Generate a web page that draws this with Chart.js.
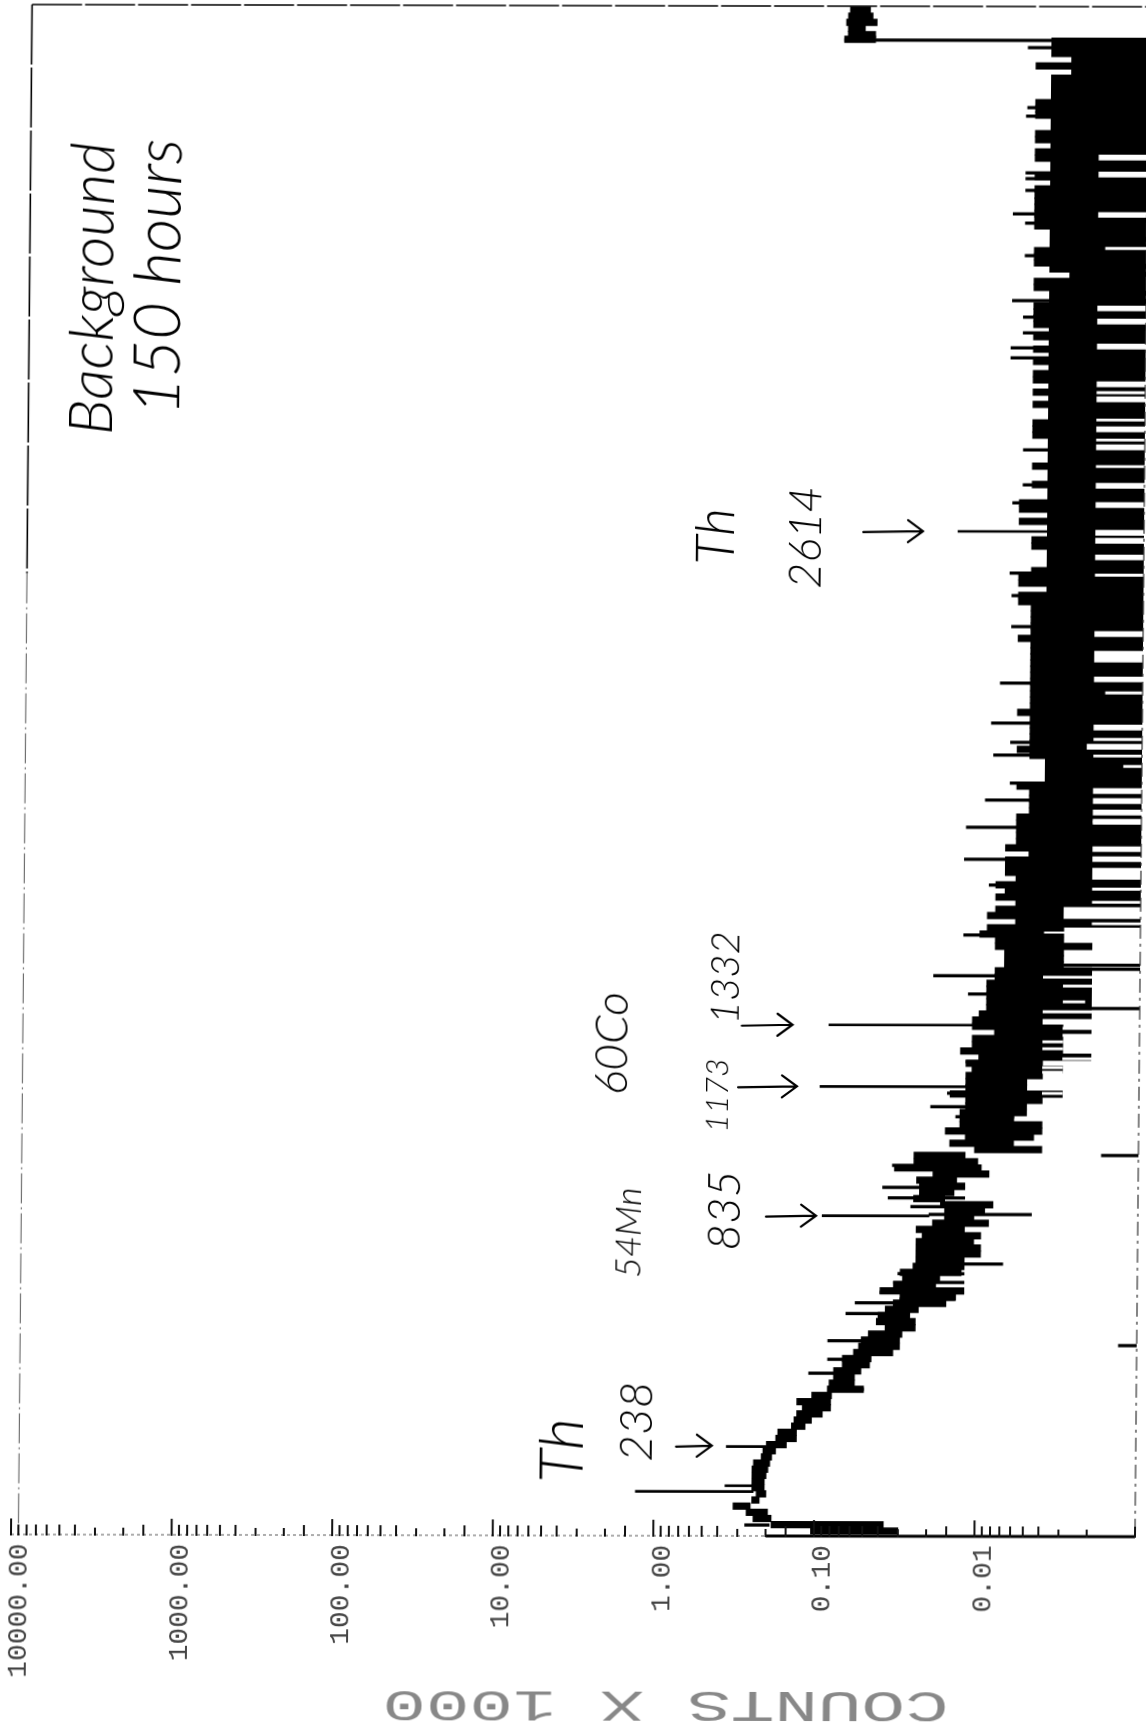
<!DOCTYPE html>
<html><head><meta charset="utf-8">
<style>
html,body{margin:0;padding:0;background:#fff;overflow:hidden;width:1146px;height:1723px}
canvas{position:absolute;left:0;top:0;transform-origin:0 0;transform:matrix(1,0.002,-0.009,1,13.8,-0.5)}
</style>
<script src="https://cdn.jsdelivr.net/npm/chart.js@4"></script>
</head><body><canvas id="c" width="1146" height="1723"></canvas>
<script>
// Background gamma spectrum: counts x 1000 (log) against energy in keV.
const tickLabelValues = [10000, 1000, 100, 10, 1, 0.1, 0.01];
const axisTitle = 'COUNTS X 1000';
const floorCounts = 0.001;
const topRowKeV = 3888, rowWidthKeV = 16;

// Envelope of the spectrum, one row per 16 keV, from the top of the plot downward
const bodyHigh = [
.004,.004,.004,.003,.005,.003,.004,.004,.004,.004,
.005,.005,.005,.004,.004,.005,.005,.004,.005,.005,
.004,.004,.005,.004,.005,.005,.005,.005,.005,.005,
.005,.004,.004,.004,.005,.005,.005,.004,.003,.005,
.005,.004,.004,.005,.005,.005,.005,.004,.005,.004,.005,
.004,.005,.004,.005,.005,.004,.005,.004,.005,.004,
.004,.005,.005,.005,.004,.004,.004,.004,.005,.004,
.004,.005,.004,.004,.006,.006,.004,.006,.004,.004,
.005,.005,.004,.004,.004,.005,.006,.006,.004,.006,
.006,.005,.005,.005,.005,.005,.006,.005,.005,.005,
.005,.005,.005,.005,.005,.005,.005,.005,.006,.005,
.005,.005,.005,.005,.006,.005,.004,.004,.004,.004,
.006,.005,.005,.005,.005,.006,.006,.006,.006,.006,
.007,.005,.007,.007,.007,.006,.008,.007,.008,.006,
.008,.009,.006,.009,.01,.008,.008,.007,.007,.007,
.008,.008,.009,.009,.009,.009,.009,.01,.011,.011,
.008,.011,.011,.013,.01,.012,.011,.012,.012,.012,
.015,.012,.012,
.013,.013,.013,.016,.012,.015,.0105,.025,.025,.033,
.019,.024,.023,.023,.025,.017,.016,.016,.019,.024,
.022,.024,.024,.024,.024,.025,.03,.029,.033,.04,
.03,.033,.037,.041,.042,.037,.047,.052,.054,.058,
.068,.068,.077,.077,.082,.084,.105,.13,.12,.13,
.135,.14,.17,.175,.2,.21,.215,.24,.245,.245,
.245,.245,.23,.245,.32,.265,.24,.185,.105];

// Lower edge of the envelope for the last rows; rows above these reach floorCounts
const bodyLowLastRows = [
.003,.004,.003,.002,.003,.003,.003,.002,.002,.002,.002,.002,.002,.002,.002,.002,
.003,.002,.003,.003,.003,.002,.004,.003,.004,.005,.005,.003,.004,.005,
.005,.006,.004,.004,.0045,.006,.004,.012,.01,.0095,
.0085,.0135,.012,.014,.016,.008,.009,.0105,.0085,.012,
.0095,.0105,.0095,.0095,.012,.012,.0125,.017,.018,.012,
.0135,.0155,.023,.026,.024,.024,.029,.03,.03,.033,
.045,.046,.052,.057,.057,.05,.079,.08,.08,.09,
.105,.115,.13,.13,.15,.175,.185,.19,.195,.2,
.205,.205,.2,.22,.25,.195,.185,.037,.03];

// Overflow block at the very top of the plot
const blobEnergy = [3968,3952,3936,3920,3904,3892];
const blobHigh = [.072,.074,.076,.074,.074,.078];
const blobLow = [.054,.052,.049,.058,.05,.05];

// Labelled gamma lines
const peakEnergy = [118,133,235,835,1171,1331,2614];
const peakHigh = [1.3,.36,.355,.0925,.097,.086,.0144];
const peakLow = [.24,.24,.2,.02,.012,.01,.004];

// Single channels standing out of the envelope
const spikeEnergy = [3890,3871,3715,3693,3546,3531,3500,3439,3415,3331,3214,3171,3130,3091,3065,
2826,2735,2688,2506,2447,2367,2220,2116,2066,2033,1960,1916,1845,1762,1695,1619,1589,1565,1487,1477,1459,1412,1375,
1269,1236,1154,1119,1093,993,966,909,882,859,839,710,685,662,636,619,609,581,510,499,462,426,384,31];
const spikeHigh = [.078,.0056,.0056,.0057,.0057,.0057,.0057,.0068,.0057,.0057,.0068,.0058,.0058,.0069,.0069,
.0057,.0057,.0066,.0068,.0066,.0066,.0077,.0087,.0066,.0084,.0066,.0094,.0123,.0126,.0088,.0088,.003,.0126,.003,.002,.0193,.0117,.002,
.0128,.012,.0156,.0198,.0138,.0017,.034,.039,.036,.026,.02,.02,.031,.033,.04,.03,.057,.065,.084,.0013,.084,.11,.08,.27];
const spikeLow = [.001,.003,.003,.003,.003,.003,.003,.003,.003,.003,.003,.003,.003,.003,.003,
.003,.003,.003,.003,.003,.003,.003,.003,.003,.003,.003,.003,.003,.003,.003,.003,.001,.003,.001,.001,.004,.004,.001,
.005,.005,.006,.006,.006,.001,.012,.012,.012,.012,.0046,.0069,.012,.012,.012,.0137,.03,.03,.05,.001,.06,.07,.05,.19];

// Energy ranges where no channel falls low: pale slits through the black band
const slitEnergyMid = [3586,3542,3437,3194,3160,3095,2997,2958,2880,2833,2733,2683,2611,2590,2547,2348,2230,2105,2055,1940,1914,1884,1860,1789,1763,1340];
const slitHighMid = [.002,.002,.002,.002,.002,.002,.002,.002,.002,.002,.002,.002,.002,.002,.002,.002,.002,.002,.0022,.002,.002,.002,.002,.002,.002,.004];
const slitLowMid = [.001,.001,.001,.001,.001,.001,.001,.001,.001,.001,.001,.001,.001,.001,.001,.001,.001,.001,.001,.001,.001,.001,.001,.001,.001,.002];
const slitEnergyThin = [3350,2975,2904,2852,2783,2501,2195,2074,2031,2004,1860,1685,1651,1595,1456,1433,1392,1366,1323,1305,1288,1270,1244,1221,1209,1154];
const slitHighThin = [.0018,.002,.002,.002,.002,.002,.0017,.002,.002,.0013,.002,.002,.002,.002,.004,.003,.003,.004,.003,.003,.004,.004,.003,.004,.004,.004];
const slitLowThin = [.001,.001,.001,.001,.001,.001,.001,.001,.001,.001,.001,.001,.001,.001,.002,.002,.0022,.002,.002,.002,.003,.003,.002,.003,.003,.003];
const slitEnergyWide = [2289,1725,1623];
const slitHighWide = [.002,.002,.003];
const slitLowWide = [.001,.001,.001];

// Handwritten notes on the sheet, anchored at [energy keV, counts]
const noteText = ['Background','150 hours','Th','238','54Mn','835','60Co','1173','1332','Th','2614'];
const noteEnergy = [3240,3271,224,299,790,848,1281,1147,1453,2600,2597];
const noteCounts = [3606,1406,3.7,1.28,1.48,.373,1.9,.42,.378,.46,.127];
const noteSize = [61,65,62,46,36,46,46,32,40,54,45];
// Arrows: energy, tail counts, head counts
const arrowEnergy = [237,835,1171,1331,2614];
const arrowTail = [.73,.207,.314,.30,.056];
const arrowHead = [.437,.101,.135,.145,.0238];

const rowCount = bodyHigh.length;
const lowStart = rowCount - bodyLowLastRows.length;
const bodyData = bodyHigh.map((h,i)=>({y:topRowKeV-i*rowWidthKeV, x:[h, i<lowStart?floorCounts:bodyLowLastRows[i-lowStart]]}));
const pairs = (e,h,l)=>e.map((v,i)=>({y:v,x:[h[i],l[i]]}));
const bar = (label,data,color,thick,order)=>({label,data,backgroundColor:color,borderWidth:0,barThickness:thick,order,grouped:false});

const framePlugin = {
  id:'sheet',
  afterDraw(chart){
    const {ctx,chartArea:a,scales:{x,y}} = chart;
    ctx.save();
    // frame
    ctx.strokeStyle='#000';ctx.lineWidth=1.6;
    const lx=x.getPixelForValue(9000);
    const midY=y.getPixelForValue(2500);
    ctx.setLineDash([60,3]);
    ctx.beginPath();ctx.moveTo(lx,a.top);ctx.lineTo(lx,midY);ctx.stroke();
    ctx.setLineDash([30,4,2,4]);ctx.lineWidth=1;ctx.strokeStyle='#555';
    ctx.beginPath();ctx.moveTo(lx,midY);ctx.lineTo(lx,a.bottom);ctx.stroke();
    ctx.setLineDash([50,3]);ctx.lineWidth=1.6;ctx.strokeStyle='#000';
    ctx.beginPath();ctx.moveTo(lx,a.top);ctx.lineTo(a.right,a.top);ctx.stroke();
    ctx.setLineDash([14,5,3,5]);ctx.lineWidth=1.2;ctx.strokeStyle='#333';
    ctx.beginPath();ctx.moveTo(a.right,a.top);ctx.lineTo(a.right,a.bottom);ctx.stroke();
    ctx.setLineDash([3,3]);ctx.lineWidth=1.2;ctx.strokeStyle='#777';
    ctx.beginPath();ctx.moveTo(a.left,a.bottom-1);ctx.lineTo(x.getPixelForValue(.2),a.bottom-1);ctx.stroke();
    ctx.setLineDash([]);ctx.lineWidth=3;ctx.strokeStyle='#000';
    ctx.beginPath();ctx.moveTo(x.getPixelForValue(.2),a.bottom-1);ctx.lineTo(a.right,a.bottom-1);ctx.stroke();
    // inward log ticks
    ctx.lineWidth=2;ctx.strokeStyle='#111';
    x.ticks.forEach((t,i)=>{
      const px=x.getPixelForValue(t.value);
      const major=tickLabelValues.includes(t.value);
      const first=String(t.value).replace(/[0.]/g,'')[0];
      const len=major?17:(first==='2'||first==='3'?8:11);
      ctx.beginPath();ctx.moveTo(px,a.bottom);ctx.lineTo(px,a.bottom-len);ctx.stroke();
    });
    // handwritten notes
    ctx.fillStyle='#000';ctx.textAlign='center';ctx.textBaseline='middle';
    noteText.forEach((s,i)=>{
      ctx.save();
      ctx.translate(x.getPixelForValue(noteCounts[i]),y.getPixelForValue(noteEnergy[i]));
      ctx.rotate(-Math.PI/2);
      ctx.font=`italic 300 ${noteSize[i]}px "Lato"`;
      ctx.fillText(s,0,0);
      ctx.restore();
    });
    ctx.lineWidth=2.2;ctx.strokeStyle='#000';ctx.lineCap='round';
    arrowEnergy.forEach((e,i)=>{
      const py=y.getPixelForValue(e),x0=x.getPixelForValue(arrowTail[i]),x1=x.getPixelForValue(arrowHead[i]);
      ctx.beginPath();ctx.moveTo(x0,py+1);ctx.lineTo(x1,py);
      ctx.moveTo(x1-15,py-11);ctx.lineTo(x1,py);ctx.lineTo(x1-15,py+11);ctx.stroke();
    });
    // axis title, upside down on the sheet
    ctx.save();
    ctx.translate((a.left+a.right)/2+94,1703);
    ctx.rotate(Math.PI);
    ctx.scale(1.65,1);
    ctx.font='400 44px "Liberation Mono"';
    ctx.fillStyle='#888';
    ctx.fillText(axisTitle,0,0);
    ctx.restore();
    ctx.restore();
  }
};

new Chart(document.getElementById('c'),{
  type:'bar',
  data:{datasets:[
    bar('Slits mid',pairs(slitEnergyMid,slitHighMid,slitLowMid),'#fff',5,0),
    bar('Slits thin',pairs(slitEnergyThin,slitHighThin,slitLowThin),'#fff',2.2,0),
    bar('Slits wide',pairs(slitEnergyWide,slitHighWide,slitLowWide),'#fff',11,0),
    bar('Peaks',pairs(peakEnergy,peakHigh,peakLow),'#000',2,1),
    bar('Spikes',pairs(spikeEnergy,spikeHigh,spikeLow),'#000',2.6,1),
    bar('Overflow',pairs(blobEnergy,blobHigh,blobLow),'#000',6.6,2),
    bar('Spectrum',bodyData,'#000',6.6,2)
  ]},
  options:{
    indexAxis:'y',responsive:false,animation:false,devicePixelRatio:1,
    layout:{autoPadding:false,padding:{left:11,right:11,top:5,bottom:0}},
    plugins:{legend:{display:false},tooltip:{enabled:false}},
    scales:{
      y:{type:'linear',min:0,max:3978,offset:false,display:false,grid:{display:false}},
      x:{type:'logarithmic',min:0.001,max:10000,reverse:true,offset:false,position:'bottom',
        afterFit(s){s.height=187;s.paddingLeft=0;s.paddingRight=0;},
        grid:{display:false,drawTicks:false},border:{display:false},
        ticks:{autoSkip:false,minRotation:90,maxRotation:90,padding:8,labelOffset:9,color:'#444',
          font:{family:'"Liberation Mono"',size:28},
          callback(v){return tickLabelValues.includes(v)?v.toFixed(2):'';}}}
    }
  },
  plugins:[framePlugin]
});
</script></body></html>
